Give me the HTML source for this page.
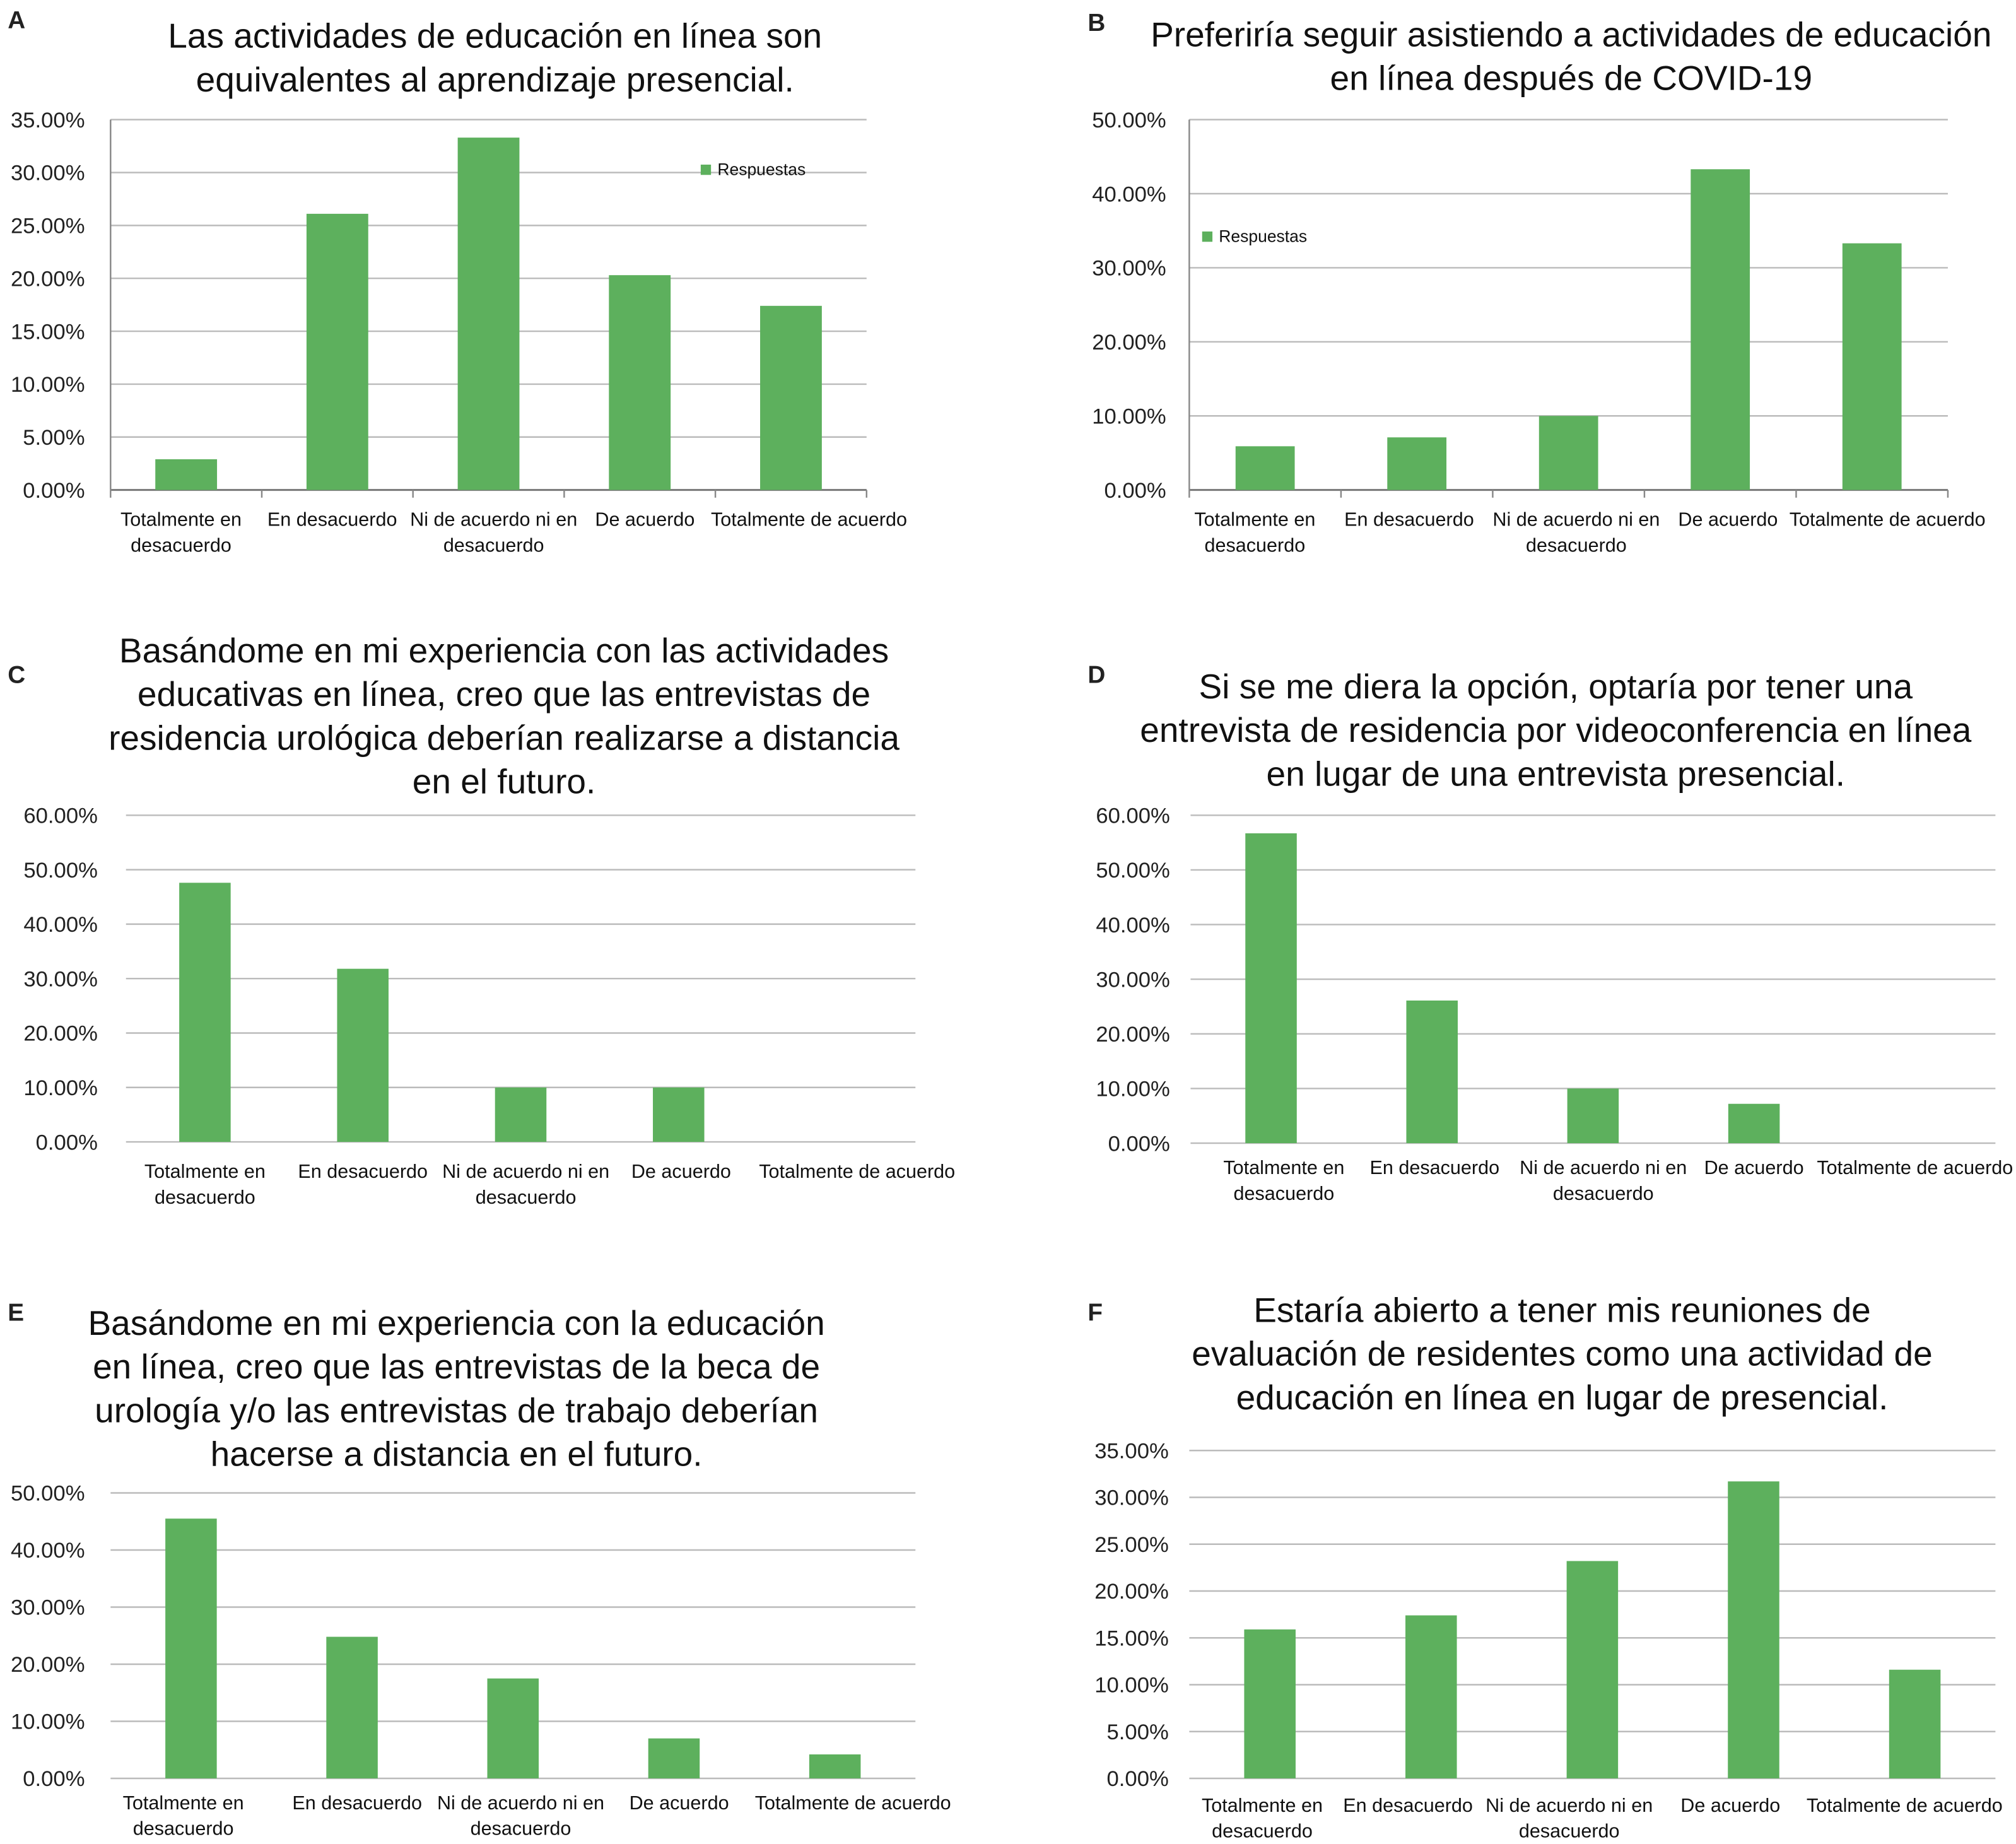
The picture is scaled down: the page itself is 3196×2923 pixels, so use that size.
<!DOCTYPE html>
<html><head><meta charset="utf-8"><style>
html,body{margin:0;padding:0;background:#fff}
svg{display:block}
text{font-family:"Liberation Sans",sans-serif}
</style></head><body>
<svg id="fig" width="3196" height="2923" viewBox="0 0 1568 1434" xmlns="http://www.w3.org/2000/svg"></svg>
<script>
const categories = ["Totalmente en|desacuerdo","En desacuerdo","Ni de acuerdo ni en|desacuerdo","De acuerdo","Totalmente de acuerdo"];
const valsA = [2.9, 26.1, 33.3, 20.3, 17.4];
const valsB = [5.9, 7.1, 10.0, 43.3, 33.3];
const valsC = [47.6, 31.8, 10.0, 10.0, 0];
const valsD = [56.7, 26.1, 10.0, 7.2, 0];
const valsE = [45.5, 24.8, 17.5, 7.0, 4.2];
const valsF = [15.9, 17.4, 23.2, 31.7, 11.6];
const ticksA = [0,5,10,15,20,25,30,35];
const ticksB = [0,10,20,30,40,50];
const ticksC = [0,10,20,30,40,50,60];
const ticksD = [0,10,20,30,40,50,60];
const ticksE = [0,10,20,30,40,50];
const ticksF = [0,5,10,15,20,25,30,35];
const titleA = ["Las actividades de educación en línea son","equivalentes al aprendizaje presencial."];
const titleB = ["Preferiría seguir asistiendo a actividades de educación","en línea después de COVID-19"];
const titleC = ["Basándome en mi experiencia con las actividades","educativas en línea, creo que las entrevistas de","residencia urológica deberían realizarse a distancia","en el futuro."];
const titleD = ["Si se me diera la opción, optaría por tener una","entrevista de residencia por videoconferencia en línea","en lugar de una entrevista presencial."];
const titleE = ["Basándome en mi experiencia con la educación","en línea, creo que las entrevistas de la beca de","urología y/o las entrevistas de trabajo deberían","hacerse a distancia en el futuro."];
const titleF = ["Estaría abierto a tener mis reuniones de","evaluación de residentes como una actividad de","educación en línea en lugar de presencial."];

const NS="http://www.w3.org/2000/svg";
const svg=document.getElementById('fig');
function mk(tag,attrs,parent){const e=document.createElementNS(NS,tag);for(const k in attrs)e.setAttribute(k,attrs[k]);(parent||svg).appendChild(e);return e;}

function chart(cfg){
  const g=mk('g',{});
  
  
  const L=mk('text',{x:cfg.lx,y:cfg.ly,'font-size':19,'font-weight':'bold',fill:'#222'},g);
  L.textContent=cfg.id.toUpperCase();
  
  
  cfg.title.forEach((t,i)=>{
    const e=mk('text',{x:cfg.tx,y:cfg.ty+i*34,'font-size':27,'text-anchor':'middle',fill:'#111'},g);
    e.textContent=t;
    
    
  });
  const max=cfg.ticks[cfg.ticks.length-1];
  const y=v=>cfg.y0-(v/max)*(cfg.y0-cfg.y1);
  const band=(cfg.x1-cfg.x0)/cfg.vals.length;
  const x=i=>cfg.x0+band*(i+0.5);
  cfg.ticks.forEach(t=>{
    const ln=mk('line',{x1:cfg.x0,x2:cfg.x1,y1:y(t),y2:y(t),stroke:t===0&&cfg.axis?'#777':'#bbb','stroke-width':t===0&&cfg.axis?1.5:1.2},g);
    
    
    const tl=mk('text',{x:cfg.x0-cfg.lab,y:y(t)+6,'font-size':17,'text-anchor':'end',fill:'#222'},g);
    tl.textContent=t.toFixed(2)+'%';
    
    
  });
  if(cfg.axis){
    const va=mk('line',{x1:cfg.x0,x2:cfg.x0,y1:y(max),y2:y(0),stroke:'#888','stroke-width':1.2},g);
    
    
    for(let i=0;i<=cfg.vals.length;i++){
      const tk=mk('line',{x1:cfg.x0+band*i,x2:cfg.x0+band*i,y1:y(0),y2:y(0)+6,stroke:'#888','stroke-width':1.2},g);
      
      
    }
  }
  cfg.vals.forEach((v,i)=>{
    const r=mk('rect',{x:x(i)-cfg.bw/2,y:y(v),width:cfg.bw,height:y(0)-y(v),fill:'#5db05d'},g);
    
    
    categories[i].split('|').forEach((s,j)=>{
      const ct=mk('text',{x:x(i)+(cfg.cdx?cfg.cdx[i]:0),y:y(0)+cfg.cy+j*20,'font-size':15,'text-anchor':'middle',fill:'#111'},g);
      ct.textContent=s;
      
      
    });
  });
  if(cfg.leg){
    const lr=mk('rect',{x:cfg.leg[0],y:cfg.leg[1]-8,width:8,height:8,fill:'#5db05d'},g);
    
    
    const lt=mk('text',{x:cfg.leg[0]+13,y:cfg.leg[1],'font-size':13,fill:'#111'},g);
    lt.textContent='Respuestas';
    
    
  }
}
chart({id:'a',vals:valsA,ticks:ticksA,title:titleA,lx:6,ly:22,tx:385,ty:37,x0:86,x1:674,y0:381,y1:93,bw:48,lab:20,axis:true,cy:28,cdx:[-4,-4,4,4,14],leg:[545,136]});
chart({id:'b',vals:valsB,ticks:ticksB,title:titleB,lx:846,ly:24,tx:1222,ty:36,x0:925,x1:1515,y0:381,y1:93,bw:46,lab:18,axis:true,cy:28,cdx:[-8,-6,6,6,12],leg:[935,188]});
chart({id:'c',vals:valsC,ticks:ticksC,title:titleC,lx:6,ly:531,tx:392,ty:515,x0:98,x1:712,y0:888,y1:634,bw:40,lab:22,axis:false,cy:28,cdx:[0,0,4,2,16]});
chart({id:'d',vals:valsD,ticks:ticksD,title:titleD,lx:846,ly:531,tx:1210,ty:543,x0:926,x1:1552,y0:889,y1:634,bw:40,lab:16,axis:false,cy:24,cdx:[10,2,8,0,0]});
chart({id:'e',vals:valsE,ticks:ticksE,title:titleE,lx:6,ly:1027,tx:355,ty:1038,x0:86,x1:712,y0:1383,y1:1161,bw:40,lab:20,axis:false,cy:24,cdx:[-6,4,6,4,14]});
chart({id:'f',vals:valsF,ticks:ticksF,title:titleF,lx:846,ly:1027,tx:1215,ty:1028,x0:925,x1:1552,y0:1383,y1:1128,bw:40,lab:16,axis:false,cy:26,cdx:[-6,-18,-18,-18,-8]});
</script>
</body></html>
